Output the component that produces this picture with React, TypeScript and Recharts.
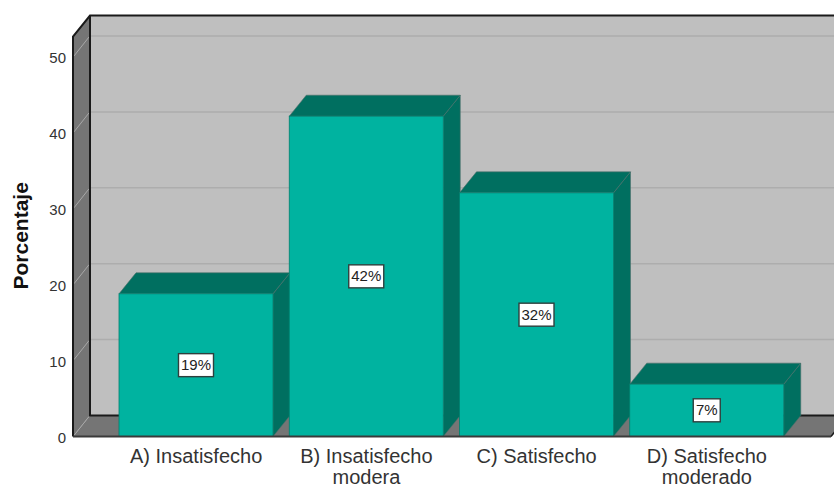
import { BarChart, Bar, XAxis, YAxis, ReferenceArea, LabelList } from 'recharts';

const categories = ['A) Insatisfecho', 'B) Insatisfecho modera', 'C) Satisfecho', 'D) Satisfecho moderado'];
const porcentaje = [18.8, 42.2, 32.1, 6.9];
const yTicks = [0, 10, 20, 30, 40, 50];
const Y_MAX = 52.7;

// offset of the back of the 3D box
const DX = 17;
const DY = 21;
// the x axis padding, the reference area only spans the padded range
const PAD_LEFT = 38;
const PAD_RIGHT = 39;

const colors = {
  front: '#00b3a0',
  dark: '#006f60',
  wall: '#bfbfbf',
  side: '#757575',
  grid: '#adadad',
  gridSide: '#a8a8a8',
  frame: '#1a1a1a',
  text: '#333333',
};

const data = categories.map((name, i) => ({ name, value: porcentaje[i] }));

function Walls(props: any) {
  const x = props.x - PAD_LEFT;
  const { y, height } = props;
  const width = props.width + PAD_LEFT + PAD_RIGHT;
  const b = y + height;
  const r = x + width;
  return (
    <g>
      <rect x={x + DX} y={y - DY} width={width} height={height} fill={colors.wall} />
      <polygon points={`${x},${y} ${x + DX},${y - DY} ${x + DX},${b - DY} ${x},${b}`} fill={colors.side} />
      <polygon points={`${x},${b} ${x + DX},${b - DY} ${r + DX},${b - DY} ${r},${b}`} fill={colors.side} />
      {yTicks.map((t) => {
        const ty = y + height * (1 - t / Y_MAX);
        return (
          <g key={t}>
            <line x1={x + 1} y1={ty - 1} x2={x + DX - 1} y2={ty - DY + 1} stroke={colors.gridSide} strokeWidth={1} />
            {t > 0 && <line x1={x + DX + 1} y1={ty - DY} x2={r + DX} y2={ty - DY} stroke={colors.grid} strokeWidth={1.5} />}
          </g>
        );
      })}
      <path
        d={`M${x},${b} L${x},${y} L${x + DX},${y - DY} L${r + DX},${y - DY} M${x + DX},${y - DY} L${x + DX},${b - DY} L${r + DX},${b - DY}`}
        fill="none"
        stroke={colors.frame}
        strokeWidth={2}
      />
      <line x1={r} y1={b} x2={r + DX} y2={b - DY} stroke={colors.frame} strokeWidth={1.5} />
    </g>
  );
}

function Box3D({ x, y, width, height }: any) {
  const r = x + width;
  const b = y + height;
  return (
    <g>
      <polygon points={`${r},${y} ${r + DX},${y - DY} ${r + DX},${b - DY} ${r},${b}`} fill={colors.dark} stroke="#4d6f69" strokeWidth={0.6} />
      <polygon points={`${x},${y} ${x + DX},${y - DY} ${r + DX},${y - DY} ${r},${y}`} fill={colors.dark} stroke="#4d6f69" strokeWidth={0.6} />
      <rect x={x} y={y} width={width} height={height} fill={colors.front} stroke="#00806f" strokeWidth={0.8} />
    </g>
  );
}

function PctLabel({ x, y, width, height, value }: any) {
  const txt = `${Math.round(value)}%`;
  const w = txt.length > 2 ? 35 : 27;
  const cx = x + width / 2;
  const cy = y + height / 2;
  return (
    <g>
      <rect x={cx - w / 2} y={cy - 11.5} width={w} height={23} fill="#ffffff" stroke="#2f3f3d" strokeWidth={1.4} />
      <text x={cx} y={cy + 5} textAnchor="middle" fontSize={15} fontFamily="Liberation Sans" fill="#222222">
        {txt}
      </text>
    </g>
  );
}

function CategoryTick({ x, y, payload }: any) {
  const words = String(payload.value).split(' ');
  const lines = words.length > 2 ? [words.slice(0, 2).join(' '), words.slice(2).join(' ')] : [words.join(' ')];
  return (
    <text x={x} y={y} textAnchor="middle" fontSize={20} fontFamily="Liberation Sans" fill={colors.text}>
      {lines.map((line, i) => (
        <tspan key={line} x={x} dy={i === 0 ? 18.5 : 20.5}>
          {line}
        </tspan>
      ))}
    </text>
  );
}

export default function App() {
  return (
    <div style={{ position: 'absolute', left: 0, top: 0, width: 834, height: 486, overflow: 'hidden', background: '#fff' }}>
      <BarChart
        width={834}
        height={486}
        data={data}
        margin={{ top: 36.5, right: 3, bottom: 0, left: 0 }}
        barSize={154}
      >
        <ReferenceArea y1={0} y2={Y_MAX} shape={<Walls />} ifOverflow="visible" />
        <XAxis
          dataKey="name"
          interval={0}
          padding={{ left: PAD_LEFT, right: PAD_RIGHT }}
          axisLine={{ stroke: '#3a3a3a', strokeWidth: 2 }}
          tickLine={false}
          tick={<CategoryTick />}
          height={49.5}
        />
        <YAxis
          width={73}
          domain={[0, Y_MAX]}
          ticks={yTicks}
          axisLine={false}
          tickLine={false}
          tickMargin={1}
          tick={{ fontSize: 15, fontFamily: 'Liberation Sans', fill: colors.text, dy: 1 }}
          label={{
            value: 'Porcentaje',
            angle: -90,
            position: 'insideLeft',
            dx: 16,
            dy: 53,
            style: { fontSize: 21, fontWeight: 'bold', fontFamily: 'Liberation Sans', fill: '#111' },
          }}
        />
        <Bar dataKey="value" shape={<Box3D />} isAnimationActive={false}>
          <LabelList dataKey="value" content={<PctLabel />} />
        </Bar>
      </BarChart>
    </div>
  );
}
